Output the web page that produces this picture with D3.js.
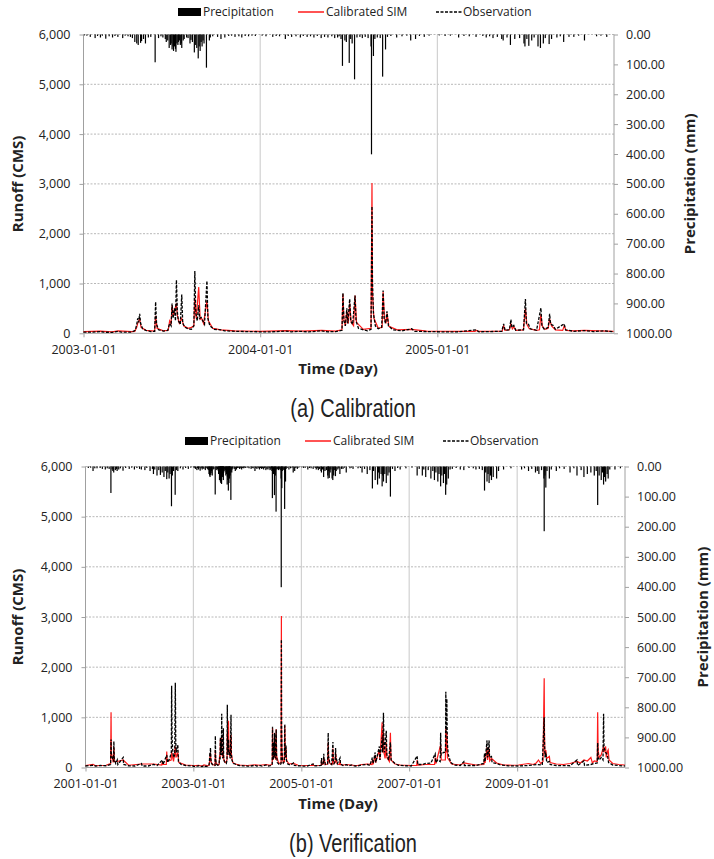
<!DOCTYPE html>
<html><head><meta charset="utf-8">
<script src="https://cdn.jsdelivr.net/npm/d3@7"></script>
<style>
body{margin:0;background:#fff;}
text{font-family:'Open Sans',sans-serif;fill:#222;}
</style></head>
<body>
<script>
// ---------- DATA ----------
const legendLabels = ["Precipitation", "Calibrated SIM", "Observation"];
const runoffTicks = [0, 1000, 2000, 3000, 4000, 5000, 6000];
const precipTicks = [0, 100, 200, 300, 400, 500, 600, 700, 800, 900, 1000];
const calXTicks = ["2003-01-01", "2004-01-01", "2005-01-01"];
const verXTicks = ["2001-01-01", "2003-01-01", "2005-01-01", "2007-01-01", "2009-01-01"];
const captions = ["(a)  Calibration", "(b)  Verification"];

// Observation runoff (CMS), 2003-2005 (shared by both panels)
const obs0305 = [
["2003-01-01",25],["2003-01-20",22],["2003-02-05",35],["2003-02-12",22],["2003-03-01",20],["2003-03-14",40],["2003-03-20",25],["2003-04-10",22],
["2003-04-18",60],["2003-04-21",180],["2003-04-23",300],["2003-04-25",220],["2003-04-27",390],["2003-04-29",200],["2003-05-03",90],["2003-05-10",60],["2003-05-20",35],
["2003-05-28",40],["2003-05-30",630],["2003-06-01",180],["2003-06-05",70],["2003-06-15",45],["2003-06-24",60],["2003-06-28",200],["2003-07-01",150],["2003-07-03",600],
["2003-07-05",300],["2003-07-08",500],["2003-07-10",250],["2003-07-12",1070],["2003-07-14",420],["2003-07-16",250],["2003-07-20",180],["2003-07-23",780],["2003-07-25",200],
["2003-07-30",120],["2003-08-05",90],["2003-08-12",80],["2003-08-17",150],["2003-08-19",1250],["2003-08-21",400],["2003-08-24",250],["2003-08-27",560],["2003-08-29",300],
["2003-09-01",320],["2003-09-04",260],["2003-09-08",180],["2003-09-13",1050],["2003-09-15",300],["2003-09-19",150],["2003-09-28",80],["2003-10-12",70],["2003-10-20",50],
["2003-11-10",40],["2003-12-01",35],["2003-12-31",30],
["2004-01-20",28],["2004-02-23",45],["2004-03-05",30],["2004-03-25",40],["2004-04-10",28],["2004-05-07",50],["2004-05-20",30],["2004-06-05",35],["2004-06-18",60],
["2004-06-20",812],["2004-06-22",250],["2004-06-25",150],["2004-06-28",500],["2004-06-30",200],["2004-07-04",690],["2004-07-06",250],["2004-07-10",180],["2004-07-15",760],
["2004-07-17",250],["2004-07-22",100],["2004-08-01",70],["2004-08-10",50],["2004-08-17",80],["2004-08-19",2550],["2004-08-20",1060],["2004-08-22",400],["2004-08-26",150],
["2004-09-01",90],["2004-09-08",120],["2004-09-11",860],["2004-09-13",300],["2004-09-16",200],["2004-09-19",440],["2004-09-22",150],["2004-10-01",70],["2004-10-20",50],
["2004-11-09",90],["2004-11-15",40],["2004-12-10",35],
["2005-01-10",30],["2005-02-10",28],["2005-03-22",70],["2005-03-28",30],["2005-04-20",35],["2005-05-14",40],["2005-05-18",190],["2005-05-21",60],["2005-05-30",70],
["2005-06-02",275],["2005-06-04",120],["2005-06-08",160],["2005-06-12",60],["2005-06-28",70],["2005-07-02",690],["2005-07-04",200],["2005-07-08",190],["2005-07-12",90],
["2005-07-25",60],["2005-08-03",510],["2005-08-05",150],["2005-08-10",80],["2005-08-18",120],["2005-08-21",390],["2005-08-23",180],["2005-08-28",160],["2005-09-02",80],
["2005-09-20",190],["2005-09-23",70],["2005-10-10",40],["2005-11-01",55],["2005-11-20",35],["2005-12-10",50],["2005-12-31",30]
];
// Calibrated SIM runoff (CMS), 2003-2005
const sim0305 = [
["2003-01-01",35],["2003-02-05",45],["2003-03-01",30],["2003-03-14",50],["2003-04-10",35],["2003-04-17",40],["2003-04-21",120],["2003-04-23",200],["2003-04-27",290],
["2003-04-30",120],["2003-05-10",60],["2003-05-28",45],["2003-05-30",350],["2003-06-02",100],["2003-06-15",50],["2003-06-25",60],["2003-06-28",250],["2003-07-01",200],
["2003-07-03",560],["2003-07-06",350],["2003-07-08",450],["2003-07-12",600],["2003-07-14",350],["2003-07-18",200],["2003-07-23",300],["2003-07-27",150],["2003-08-05",100],
["2003-08-12",120],["2003-08-17",150],["2003-08-19",700],["2003-08-22",300],["2003-08-27",930],["2003-08-30",280],["2003-09-02",300],["2003-09-06",200],["2003-09-13",650],
["2003-09-16",250],["2003-09-25",100],["2003-10-12",70],["2003-11-10",50],["2003-12-31",40],
["2004-02-23",55],["2004-03-25",45],["2004-05-07",60],["2004-06-05",45],["2004-06-18",70],["2004-06-20",790],["2004-06-22",280],["2004-06-25",150],["2004-06-28",450],
["2004-07-01",200],["2004-07-04",600],["2004-07-07",220],["2004-07-12",150],["2004-07-15",760],["2004-07-18",220],["2004-08-01",80],["2004-08-17",100],["2004-08-19",3020],
["2004-08-20",800],["2004-08-23",300],["2004-09-01",100],["2004-09-09",120],["2004-09-11",830],["2004-09-14",280],["2004-09-17",200],["2004-09-19",400],["2004-09-23",140],
["2004-10-10",70],["2004-11-09",80],["2004-12-10",45],
["2005-02-10",40],["2005-03-20",40],["2005-03-22",60],["2005-03-26",40],["2005-05-15",45],["2005-05-18",150],["2005-05-21",60],["2005-05-30",70],["2005-06-02",200],
["2005-06-05",90],["2005-06-08",130],["2005-06-12",60],["2005-06-28",70],["2005-07-02",500],["2005-07-05",180],["2005-07-10",90],["2005-07-25",60],["2005-07-31",70],
["2005-08-03",380],["2005-08-06",140],["2005-08-12",80],["2005-08-18",100],["2005-08-21",290],["2005-08-25",150],["2005-09-02",70],["2005-09-17",60],["2005-09-20",150],
["2005-09-24",60],["2005-10-10",50],["2005-11-01",60],["2005-12-31",40]
];
// Observation / SIM, 2001-2002 (verification only)
const obs0102 = [
["2001-01-01",30],["2001-02-21",45],["2001-03-10",30],["2001-04-15",40],["2001-05-20",35],["2001-06-20",60],["2001-06-23",560],["2001-06-25",250],["2001-07-10",120],
["2001-07-12",520],["2001-07-15",150],["2001-07-25",80],["2001-08-04",150],["2001-08-08",60],["2001-09-13",200],["2001-09-16",60],["2001-10-20",35],["2001-12-01",30],
["2002-01-15",80],["2002-01-20",30],["2002-03-01",30],["2002-04-06",60],["2002-05-01",40],["2002-06-05",150],["2002-06-10",60],["2002-07-05",250],["2002-07-10",100],
["2002-07-25",180],["2002-08-05",300],["2002-08-07",1630],["2002-08-10",600],["2002-08-14",350],["2002-08-20",200],["2002-08-28",250],["2002-09-01",1690],["2002-09-04",500],
["2002-09-08",300],["2002-09-18",455],["2002-09-22",120],["2002-10-10",60],["2002-11-10",40],["2002-12-31",30]
];
const sim0102 = [
["2001-01-01",40],["2001-02-21",60],["2001-03-10",35],["2001-05-20",45],["2001-06-20",80],["2001-06-23",1100],["2001-06-25",300],["2001-07-08",100],["2001-07-12",400],
["2001-07-16",120],["2001-08-04",120],["2001-09-13",150],["2001-10-20",45],["2002-01-15",70],["2002-04-06",70],["2002-06-01",50],["2002-06-05",120],["2002-06-09",60],
["2002-07-02",60],["2002-07-05",320],["2002-07-08",120],["2002-08-04",150],["2002-08-07",330],["2002-08-10",250],["2002-08-20",120],["2002-09-01",420],["2002-09-05",200],
["2002-09-18",300],["2002-09-25",100],["2002-11-10",50],["2002-12-31",40]
];
// Observation / SIM, 2006-2010 (verification only)
const obs0610 = [
["2006-01-15",30],["2006-02-16",50],["2006-03-23",60],["2006-04-10",40],["2006-04-27",200],["2006-05-02",80],["2006-05-16",300],["2006-05-20",100],["2006-06-13",420],
["2006-06-17",150],["2006-07-02",600],["2006-07-05",300],["2006-07-11",1090],["2006-07-14",500],["2006-07-18",300],["2006-07-30",730],["2006-08-03",250],["2006-08-15",150],
["2006-08-27",500],["2006-09-01",150],["2006-09-27",80],["2006-10-20",45],["2006-12-01",35],["2007-01-15",30],["2007-02-24",230],["2007-02-28",60],["2007-04-01",60],
["2007-04-23",80],["2007-05-28",90],["2007-06-26",270],["2007-06-30",100],["2007-07-14",150],["2007-07-30",120],["2007-08-02",690],["2007-08-05",250],["2007-08-21",300],
["2007-09-04",300],["2007-09-06",1510],["2007-09-09",700],["2007-09-13",1370],["2007-09-16",500],["2007-09-23",250],["2007-10-10",100],["2007-11-01",50],["2007-12-13",40],
["2008-01-06",115],["2008-01-10",40],["2008-03-28",40],["2008-05-20",80],["2008-05-25",285],["2008-05-29",120],["2008-06-11",540],["2008-06-14",200],["2008-06-18",250],
["2008-06-25",540],["2008-06-28",200],["2008-07-11",220],["2008-07-15",100],["2008-08-15",80],["2008-09-10",50],["2008-11-01",35],["2009-01-10",30],["2009-03-19",40],
["2009-05-17",60],["2009-06-20",50],["2009-07-03",1000],["2009-07-05",500],["2009-07-09",200],["2009-07-14",300],["2009-07-20",100],["2009-08-07",120],["2009-08-12",60],
["2009-09-23",40],["2009-12-25",35],["2010-02-10",150],["2010-02-14",40],["2010-03-29",130],["2010-04-02",40],["2010-05-15",60],["2010-06-07",80],["2010-06-27",90],
["2010-06-30",490],["2010-07-03",200],["2010-07-10",150],["2010-07-24",200],["2010-08-05",150],["2010-08-09",1070],["2010-08-12",400],["2010-08-23",300],["2010-09-04",250],
["2010-09-12",100],["2010-10-10",50],["2010-12-31",30]
];
const sim0610 = [
["2006-01-15",40],["2006-02-16",60],["2006-03-23",70],["2006-04-24",60],["2006-04-27",150],["2006-05-02",60],["2006-05-16",250],["2006-05-19",100],["2006-06-13",350],
["2006-06-17",150],["2006-07-02",900],["2006-07-05",300],["2006-07-11",700],["2006-07-14",300],["2006-07-22",180],["2006-07-30",500],["2006-08-03",200],["2006-08-20",120],
["2006-08-27",690],["2006-08-31",150],["2006-09-27",70],["2006-11-01",50],["2007-01-15",40],["2007-02-21",40],["2007-02-24",150],["2007-03-01",50],["2007-04-23",60],
["2007-06-22",60],["2007-06-26",200],["2007-07-01",80],["2007-08-02",450],["2007-08-06",150],["2007-09-03",150],["2007-09-06",800],["2007-09-09",300],["2007-09-13",700],
["2007-09-17",200],["2007-10-15",70],["2007-12-13",50],["2008-01-06",90],["2008-03-28",50],["2008-05-21",60],["2008-05-25",200],["2008-05-29",90],["2008-06-11",400],
["2008-06-15",150],["2008-06-25",380],["2008-06-29",130],["2008-07-11",180],["2008-08-15",90],["2008-10-01",50],["2008-12-01",45],["2009-01-10",50],["2009-03-19",80],
["2009-04-20",60],["2009-05-10",90],["2009-05-17",115],["2009-05-25",150],["2009-06-10",80],["2009-06-25",120],["2009-07-03",1780],["2009-07-05",700],["2009-07-08",250],
["2009-07-14",350],["2009-07-20",180],["2009-08-07",220],["2009-08-12",100],["2009-09-23",70],["2009-11-10",60],["2009-12-25",80],["2010-02-10",120],["2010-03-05",90],
["2010-03-29",150],["2010-04-21",130],["2010-05-15",200],["2010-05-25",90],["2010-06-07",130],["2010-06-27",120],["2010-06-30",1100],["2010-07-03",350],["2010-07-10",200],
["2010-07-24",250],["2010-08-09",420],["2010-08-12",300],["2010-08-23",420],["2010-08-27",200],["2010-09-04",320],["2010-09-09",350],["2010-09-15",150],["2010-10-10",80],
["2010-11-20",60],["2010-12-31",50]
];

// Precipitation (mm)
const precip0305 = [
["2003-01-03",3],["2003-01-08",4],["2003-01-15",8],["2003-01-25",12],["2003-01-30",5],["2003-02-05",10],["2003-02-09",4],["2003-02-16",14],["2003-02-23",6],
["2003-03-02",10],["2003-03-07",5],["2003-03-13",8],["2003-03-23",12],["2003-03-28",4],["2003-04-03",6],["2003-04-08",8],["2003-04-12",12],["2003-04-17",25],
["2003-04-21",30],["2003-04-24",35],["2003-04-29",28],["2003-05-01",22],["2003-05-05",15],["2003-05-09",30],["2003-05-15",10],["2003-05-20",8],["2003-05-29",93],
["2003-06-05",12],["2003-06-10",6],["2003-06-14",10],["2003-06-19",15],["2003-06-21",25],["2003-06-24",20],["2003-06-27",45],["2003-06-30",35],["2003-07-01",30],
["2003-07-03",50],["2003-07-05",40],["2003-07-06",55],["2003-07-08",40],["2003-07-10",48],["2003-07-11",58],["2003-07-13",30],["2003-07-15",35],["2003-07-16",25],
["2003-07-18",20],["2003-07-20",35],["2003-07-22",30],["2003-07-23",45],["2003-07-26",20],["2003-07-28",15],["2003-08-02",10],["2003-08-05",12],["2003-08-09",30],
["2003-08-11",18],["2003-08-14",25],["2003-08-18",60],["2003-08-20",35],["2003-08-23",45],["2003-08-26",80],["2003-08-28",40],["2003-08-30",55],["2003-09-01",25],
["2003-09-03",40],["2003-09-05",20],["2003-09-07",30],["2003-09-12",111],["2003-09-18",20],["2003-09-20",10],["2003-09-25",6],["2003-10-05",8],["2003-10-12",15],
["2003-10-20",10],["2003-10-28",5],["2003-11-03",4],["2003-11-10",8],["2003-11-18",6],["2003-11-24",10],["2003-12-01",5],["2003-12-08",6],["2003-12-15",4],["2003-12-22",5],
["2004-01-05",4],["2004-01-13",6],["2004-01-27",8],["2004-02-03",5],["2004-02-10",6],["2004-02-22",15],["2004-02-28",5],["2004-03-06",8],["2004-03-15",6],
["2004-03-24",10],["2004-03-30",5],["2004-04-07",8],["2004-04-14",6],["2004-04-21",10],["2004-04-28",5],["2004-05-06",12],["2004-05-13",8],["2004-05-20",10],
["2004-05-28",6],["2004-06-03",12],["2004-06-09",10],["2004-06-12",6],["2004-06-16",15],["2004-06-19",105],["2004-06-24",20],["2004-06-27",25],["2004-07-03",95],
["2004-07-06",15],["2004-07-09",30],["2004-07-14",150],["2004-07-19",10],["2004-07-25",8],["2004-07-30",12],["2004-08-05",8],["2004-08-11",12],["2004-08-17",40],
["2004-08-18",401],["2004-08-22",72],["2004-08-25",15],["2004-08-30",10],["2004-09-05",12],["2004-09-10",141],["2004-09-16",50],["2004-09-20",8],["2004-09-27",5],
["2004-10-09",10],["2004-10-20",6],["2004-10-30",4],["2004-11-07",20],["2004-11-17",15],["2004-11-25",5],["2004-12-05",8],["2004-12-15",4],
["2005-01-05",3],["2005-01-17",5],["2005-01-28",4],["2005-02-14",10],["2005-02-25",5],["2005-03-08",6],["2005-03-22",8],["2005-04-05",5],["2005-04-12",10],
["2005-04-19",6],["2005-04-26",12],["2005-05-05",8],["2005-05-14",15],["2005-05-17",20],["2005-05-25",10],["2005-06-01",35],["2005-06-10",15],["2005-06-20",12],
["2005-06-29",30],["2005-07-01",40],["2005-07-05",15],["2005-07-09",38],["2005-07-15",20],["2005-07-20",10],["2005-07-28",40],["2005-08-02",45],["2005-08-08",30],
["2005-08-12",12],["2005-08-20",32],["2005-08-25",15],["2005-09-05",10],["2005-09-12",6],["2005-09-19",25],["2005-09-30",8],["2005-10-10",8],["2005-10-20",4],
["2005-11-01",20],["2005-11-26",6],["2005-12-05",4],["2005-12-17",8]
];
const precip0102 = [
["2001-01-20",5],["2001-02-05",4],["2001-02-21",15],["2001-03-05",6],["2001-03-20",6],["2001-04-10",5],["2001-04-25",8],["2001-05-15",10],["2001-05-28",6],
["2001-06-10",8],["2001-06-22",88],["2001-06-30",10],["2001-07-05",15],["2001-07-11",20],["2001-07-22",12],["2001-07-30",8],["2001-08-03",15],["2001-08-14",10],
["2001-08-25",6],["2001-09-12",14],["2001-09-30",5],["2001-10-24",8],["2001-11-10",4],["2001-11-28",10],["2001-12-15",5],["2002-01-02",8],["2002-01-14",10],
["2002-02-07",12],["2002-02-20",5],["2002-03-14",15],["2002-03-30",8],["2002-04-06",25],["2002-04-15",10],["2002-04-30",30],["2002-05-12",12],["2002-05-23",28],
["2002-06-04",20],["2002-06-16",35],["2002-06-25",15],["2002-07-05",42],["2002-07-12",20],["2002-07-21",40],["2002-07-28",25],["2002-08-06",132],["2002-08-12",30],
["2002-08-20",15],["2002-08-31",94],["2002-09-08",12],["2002-09-18",15],["2002-10-05",6],["2002-10-23",10],["2002-11-10",5],["2002-11-28",8],["2002-12-15",4]
];
const precip0610 = [
["2006-01-20",6],["2006-02-05",5],["2006-02-16",20],["2006-03-05",8],["2006-03-23",25],["2006-04-10",12],["2006-04-27",73],["2006-05-05",15],["2006-05-16",45],
["2006-06-01",60],["2006-06-08",20],["2006-06-13",40],["2006-06-25",25],["2006-07-02",66],["2006-07-06",30],["2006-07-11",50],["2006-07-20",25],["2006-07-30",55],
["2006-08-10",30],["2006-08-18",20],["2006-08-27",100],["2006-09-10",8],["2006-09-27",15],["2006-10-15",5],["2006-11-01",10],["2006-12-10",6],
["2007-01-20",4],["2007-02-24",30],["2007-03-10",8],["2007-03-31",30],["2007-04-10",10],["2007-04-23",35],["2007-05-10",12],["2007-05-28",40],["2007-06-10",15],
["2007-06-21",45],["2007-07-01",20],["2007-07-14",50],["2007-07-22",25],["2007-08-02",66],["2007-08-10",30],["2007-08-21",55],["2007-08-28",25],["2007-09-05",94],
["2007-09-12",60],["2007-09-23",40],["2007-10-05",10],["2007-10-20",8],["2007-11-15",5],["2007-12-13",10],["2008-01-06",12],["2008-02-10",5],["2008-03-10",6],
["2008-03-28",10],["2008-04-20",8],["2008-05-10",12],["2008-05-25",80],["2008-06-02",20],["2008-06-11",50],["2008-06-18",25],["2008-06-25",55],["2008-07-04",30],
["2008-07-11",45],["2008-07-23",35],["2008-08-15",40],["2008-08-28",15],["2008-10-01",10],["2008-11-20",6],
["2009-01-31",10],["2009-02-20",6],["2009-03-19",15],["2009-04-10",8],["2009-05-05",20],["2009-05-17",15],["2009-05-28",25],["2009-06-15",12],["2009-07-01",40],
["2009-07-03",215],["2009-07-08",30],["2009-07-14",70],["2009-07-22",15],["2009-08-07",40],["2009-08-20",10],["2009-09-23",15],["2009-10-15",6],["2009-11-15",8],
["2009-12-25",20],["2010-01-20",6],["2010-02-10",30],["2010-03-10",12],["2010-03-29",35],["2010-04-21",25],["2010-05-15",20],["2010-06-07",30],["2010-06-20",15],
["2010-06-30",128],["2010-07-10",30],["2010-07-24",45],["2010-08-01",20],["2010-08-09",60],["2010-08-15",35],["2010-08-23",50],["2010-09-02",25],["2010-09-09",40],
["2010-09-20",10],["2010-10-25",10],["2010-12-01",6]
];

// ---------- DRAW ----------
const parse = d3.timeParse("%Y-%m-%d");
const toPts = arr => arr.map(d => ({date: parse(d[0]), v: d[1]}));

const svg = d3.select("body").append("svg").attr("width", 714).attr("height", 859);

const panels = [
  {start:"2003-01-01", end:"2006-01-01", left:83.5, right:614, top:34.5, bottom:333.3,
   legendY:12, legendCx:357, titleY:369, capY:408, rightTitleX:690,
   ticks:calXTicks, cap:captions[0],
   obs:obs0305, sim:sim0305, precip:precip0305},
  {start:"2001-01-01", end:"2011-01-01", left:85.5, right:625, top:466.5, bottom:767.5,
   legendY:441, legendCx:364, titleY:804, capY:843, rightTitleX:703,
   ticks:verXTicks, cap:captions[1],
   obs:[...obs0102, ...obs0305, ...obs0610], sim:[...sim0102, ...sim0305, ...sim0610],
   precip:[...precip0102, ...precip0305, ...precip0610]}
];

panels.forEach(p => {
  const g = svg.append("g");
  const x = d3.scaleTime().domain([parse(p.start), parse(p.end)]).range([p.left, p.right]);
  const y = d3.scaleLinear().domain([0, 6000]).range([p.bottom, p.top]);
  const yp = d3.scaleLinear().domain([0, 1000]).range([p.top, p.bottom]);

  // horizontal gridlines
  g.selectAll(".hg").data(runoffTicks.filter(t => t > 0)).join("line")
    .attr("x1", p.left).attr("x2", p.right)
    .attr("y1", d => y(d)).attr("y2", d => y(d))
    .attr("stroke", "#b8b8b8").attr("stroke-width", 1).attr("stroke-dasharray", "2,1.5");
  // vertical gridlines
  g.selectAll(".vg").data(p.ticks.slice(1)).join("line")
    .attr("x1", d => x(parse(d))).attr("x2", d => x(parse(d)))
    .attr("y1", p.top).attr("y2", p.bottom)
    .attr("stroke", "#c8c8c8").attr("stroke-width", 1);

  const la = g.append("g").attr("transform", `translate(${p.left},0)`)
    .call(d3.axisLeft(y).tickValues(runoffTicks).tickFormat(d3.format(",")).tickSize(4).tickPadding(9));
  const ra = g.append("g").attr("transform", `translate(${p.right},0)`)
    .call(d3.axisRight(yp).tickValues(precipTicks).tickFormat(d3.format(".2f")).tickSize(4).tickPadding(8));
  const ba = g.append("g").attr("transform", `translate(0,${p.bottom})`)
    .call(d3.axisBottom(x).tickValues(p.ticks.map(parse)).tickFormat(d3.timeFormat("%Y-%m-%d")).tickSize(4).tickPadding(6));
  [la, ra, ba].forEach(a => {
    a.selectAll(".domain").attr("stroke", "#a0a0a0");
    a.selectAll(".tick line").attr("stroke", "#a0a0a0");
    a.selectAll("text").style("font-family", "'Open Sans',sans-serif").style("font-size", "12.5px").attr("fill", "#222");
  });
  la.select(".domain").attr("d", `M0,${p.bottom}V${p.top}`);
  ra.select(".domain").attr("d", `M0,${p.top}V${p.bottom}`);
  ba.select(".domain").attr("d", `M${p.left},0H${p.right}`);
  ba.selectAll("text").attr("dy", "0.35em").attr("y", 16);

  // precipitation bars hanging from the top
  g.selectAll(".pb").data(toPts(p.precip)).join("rect")
    .attr("x", d => x(d.date) - 0.6).attr("width", 1.2)
    .attr("y", p.top).attr("height", d => yp(d.v) - p.top)
    .attr("fill", "#000");

  const line = d3.line().x(d => x(d.date)).y(d => y(d.v));
  g.append("path").datum(toPts(p.sim)).attr("d", line)
    .attr("fill", "none").attr("stroke", "#ff1a1a").attr("stroke-width", 1.2);
  g.append("path").datum(toPts(p.obs)).attr("d", line)
    .attr("fill", "none").attr("stroke", "#000").attr("stroke-width", 1.3).attr("stroke-dasharray", "3,1.5");

  // legend
  const lg = g.append("g").attr("transform", `translate(${p.legendCx - 179},${p.legendY})`);
  lg.append("rect").attr("x", 0).attr("y", -4).attr("width", 23).attr("height", 8).attr("fill", "#000");
  lg.append("text").attr("x", 25).attr("y", 0).attr("dy", "0.35em").style("font-size", "12px").text(legendLabels[0]);
  lg.append("line").attr("x1", 120).attr("x2", 146).attr("y1", 0).attr("y2", 0).attr("stroke", "#ff1a1a").attr("stroke-width", 1.5);
  lg.append("text").attr("x", 148).attr("y", 0).attr("dy", "0.35em").style("font-size", "12px").text(legendLabels[1]);
  lg.append("line").attr("x1", 258).attr("x2", 284).attr("y1", 0).attr("y2", 0).attr("stroke", "#000").attr("stroke-width", 1.5).attr("stroke-dasharray", "3,1.5");
  lg.append("text").attr("x", 285).attr("y", 0).attr("dy", "0.35em").style("font-size", "12px").text(legendLabels[2]);

  // axis titles
  const cy = (p.top + p.bottom) / 2;
  g.append("text").attr("transform", `translate(18,${cy}) rotate(-90)`).attr("text-anchor", "middle")
    .attr("dy", "0.35em").style("font-size", "15px").style("font-weight", "bold").text("Runoff  (CMS)");
  g.append("text").attr("transform", `translate(${p.rightTitleX},${cy}) rotate(-90)`).attr("text-anchor", "middle")
    .attr("dy", "0.35em").style("font-size", "15px").style("font-weight", "bold").text("Precipitation (mm)");
  g.append("text").attr("x", 338).attr("y", p.titleY).attr("text-anchor", "middle")
    .attr("dy", "0.35em").style("font-size", "15px").style("font-weight", "bold").text("Time (Day)");
  g.append("text").attr("transform", `translate(353,${p.capY}) scale(0.8,1)`).attr("text-anchor", "middle").attr("dy", "0.35em")
    .style("font-family", "'Liberation Sans','DejaVu Sans',sans-serif").style("font-size", "25px")
    .text(p.cap);
});
</script>
</body></html>
